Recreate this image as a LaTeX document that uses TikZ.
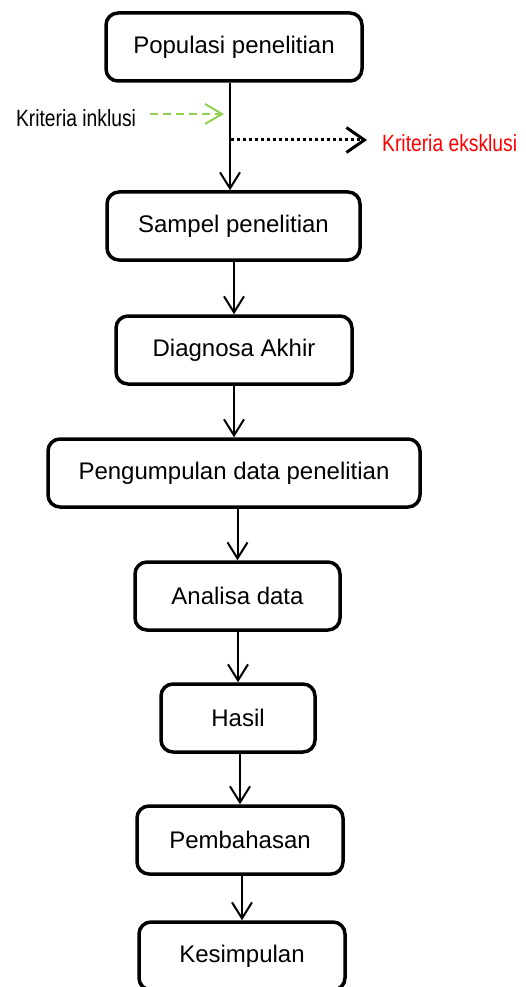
\documentclass[tikz,border=0pt]{standalone}
\usepackage{fontspec}
\setmainfont{Liberation Sans}
\newfontfamily\narrowfont{Liberation Sans}[FakeStretch=0.82]
\usepackage{xcolor}
\usetikzlibrary{
	positioning,						% Relative positioning
	arrows.meta,						% Barb arrow tips
	calc								% Coordinate calculations
}
\definecolor{inclgreen}{RGB}{146, 208, 80}
\definecolor{exclred}{RGB}{255, 0, 0}

\begin{document}
\begin{tikzpicture}[x=1pt, y=-1pt]
		\tikzstyle{stage} = [draw, rounded corners=12pt, line width=3.5pt, minimum height=68pt, inner sep=0pt, font=\fontsize{24}{28}\selectfont]
		\tikzstyle{flow} = [line width=2pt, -{Straight Barb[length=16pt, width=20pt]}]
		\tikzstyle{crit} = [inner ysep=0pt, font=\narrowfont\fontsize{23.5}{26}\selectfont]
		
		\useasboundingbox (0,0) rectangle (526,987);
		
		% Stages
		\node[stage, minimum width=256pt] at (234, 47) (popul) {Populasi penelitian};
		\node[stage, minimum width=253pt] at (233.5, 226) (sampel) {Sampel penelitian};
		\node[stage, minimum width=236pt] at (234, 350) (diag) {Diagnosa Akhir};
		\node[stage, minimum width=372pt] at (234, 473) (kumpul) {Pengumpulan data penelitian};
		\node[stage, minimum width=205pt] at (237.5, 596) (analisa) {Analisa data};
		\node[stage, minimum width=154pt] at (238, 718) (hasil) {Hasil};
		\node[stage, minimum width=206pt] at (240, 840) (bahas) {Pembahasan};
		\node[stage, minimum width=206pt] at (242, 956) (simpul) {Kesimpulan};
		
		%% Arrows between stages (straight down into the next stage)
		\draw[flow] (popul.south -| 230,0) to (sampel.north -| 230,0);
		\foreach \from/\to in {sampel/diag, diag/kumpul, kumpul/analisa, analisa/hasil, hasil/bahas, bahas/simpul}{
			\draw[flow] (\to.north |- \from.south) to (\to.north);
		}
		
		% Criteria
		\node[crit, inner xsep=14pt] at (76, 118) (inklusi) {Kriteria inklusi};
		\coordinate (inkTip) at (224, 114);
		\draw[inclgreen, line width=2pt, dash pattern=on 8pt off 5pt, -{Straight Barb[length=17pt, width=20pt]}] (inklusi.east |- inkTip) to (inkTip);
		
		\node[crit, inner xsep=15pt, anchor=west, text=exclred] at (367, 143) (eksklusi) {Kriteria eksklusi};
		\coordinate (eksStart) at (231, 140);
		\draw[line width=3pt, dash pattern=on 3pt off 3pt, -{Straight Barb[length=18pt, width=25pt]}] (eksStart) to (eksStart -| eksklusi.west);
	\end{tikzpicture}
\end{document}
